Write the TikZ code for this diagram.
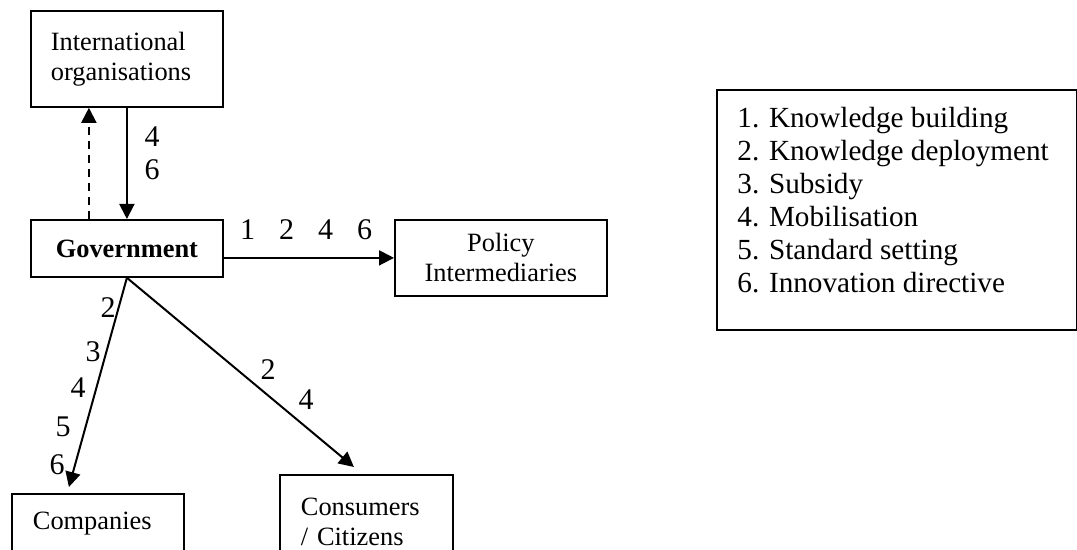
\documentclass[tikz,border=0pt]{standalone}
\usepackage{fontspec}
\setmainfont{Liberation Serif}
\usetikzlibrary{arrows.meta}
\tikzset{
  box/.style={draw,line width=0.9pt,inner sep=0pt,align=left,font=\fontsize{13.2}{15}\selectfont},
  num/.style={inner sep=0pt,font=\fontsize{15}{16}\selectfont},
  flow/.style={line width=1pt,-{Triangle[length=7.5pt,width=7.5pt]}},
}
\begin{document}
\begin{tikzpicture}[x=0.5pt,y=-0.5pt]
\useasboundingbox (0,0) rectangle (1077,550);
\clip (0,0) rectangle (1077,550);
% actors
\node[box,minimum width=96pt,minimum height=48pt,text width=76pt,anchor=north west] (intl) at (30,10) {International\\organisations};
\node[box,minimum width=96pt,minimum height=28.5pt,align=center,anchor=north west] (gov) at (30,219) {\textbf{Government}};
\node[box,minimum width=106pt,minimum height=38pt,align=center,anchor=north west] (policy) at (394,219) {Policy\\Intermediaries};
\node[box,minimum width=86pt,minimum height=30pt,text width=65pt,anchor=north west] (comp) at (11,493) {Companies};
\node[box,minimum width=86.5pt,minimum height=46.5pt,text width=65.5pt,anchor=north west] (cons) at (279,474) {Consumers\\/ Citizens};
% key
\node[box,minimum width=180pt,minimum height=120pt,anchor=north west] (key) at (716,89) {};
\node[inner sep=0pt,align=left,anchor=west,font=\fontsize{14.6}{16.5}\selectfont] (keytext) at (737,200.5) {1. Knowledge building\\2. Knowledge deployment\\3. Subsidy\\4. Mobilisation\\5. Standard setting\\6. Innovation directive};
% flows
\coordinate (comptip) at ([xshift=-14.5pt,yshift=3pt]comp.north);
\coordinate (constip) at ([xshift=-6.25pt,yshift=3.5pt]cons.north);
\draw[flow] (intl.south) -- (gov.north);
\draw[flow,dash pattern=on 4pt off 3pt] ([xshift=-19pt]gov.north) -- ([xshift=-19pt]intl.south);
\draw[flow] ([yshift=-4.75pt]gov.east) -- ([yshift=-4.75pt]gov.east -| policy.west);
\draw[flow] (gov.south) -- (comptip);
\draw[flow] (gov.south) -- (constip);
% instrument numbers
\node[num] (i4) at (152,137) {4};
\node[num] (i6) at (152,170) {6};
\node[num] (p) at (306,230) {1\hspace{12pt}2\hspace{12pt}4\hspace{12pt}6};
\foreach \n/\x/\y in {2/108/308,3/93/352,4/78/388,5/63/427,6/57/465}
  \node[num] (c\n) at (\x,\y) {\n};
\node[num] (k2) at (268,370) {2};
\node[num] (k4) at (306,400) {4};
\end{tikzpicture}
\end{document}
